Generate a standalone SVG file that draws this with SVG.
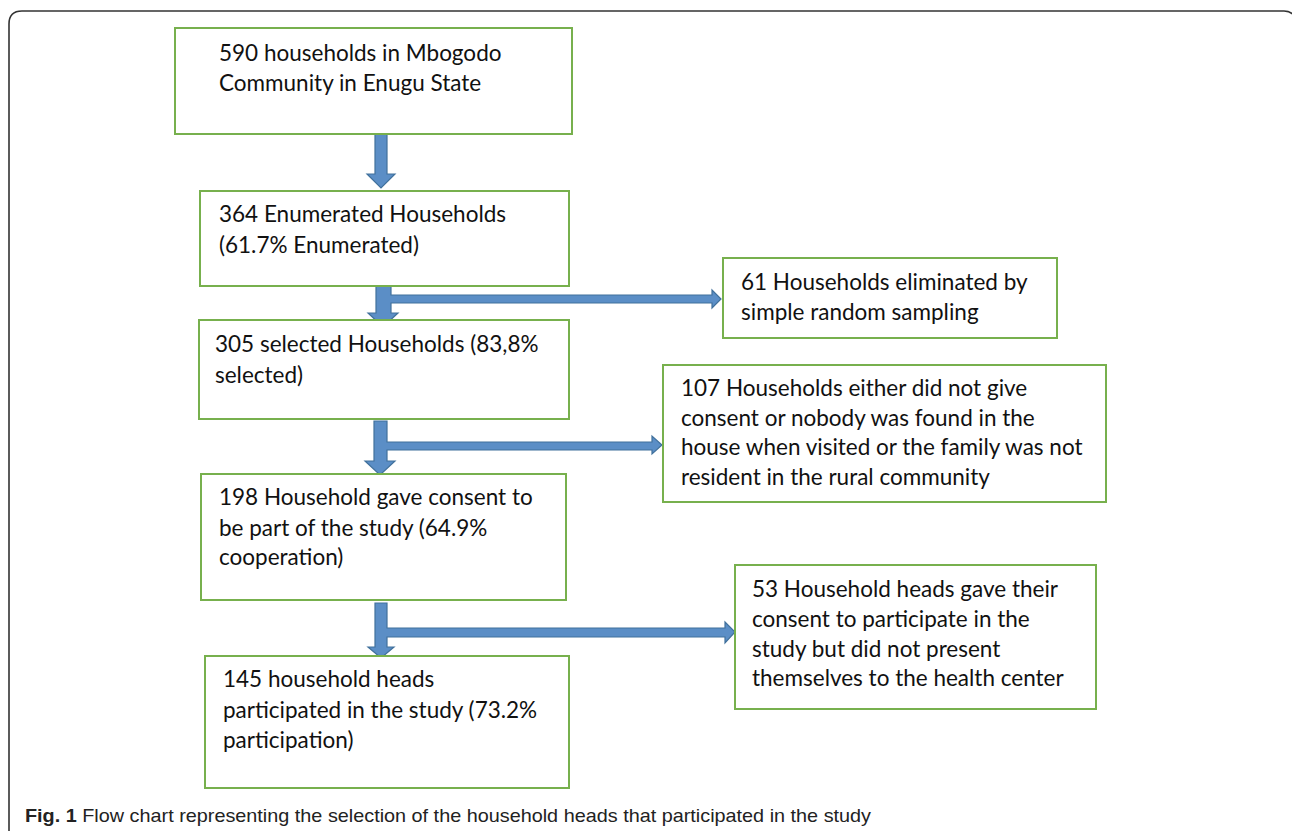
<svg xmlns="http://www.w3.org/2000/svg" width="1292" height="831" viewBox="0 0 1292 831">
<style>
.box{fill:#fff;stroke:#77b04d;stroke-width:2}
.t{font-family:Lato,"Open Sans","Liberation Sans",sans-serif;font-size:22.5px;fill:#111}
.arr{fill:#5b8ec6;stroke:#41719c;stroke-width:1.2;stroke-linejoin:miter}
.cap{font-family:"Liberation Sans",sans-serif;font-size:19px;fill:#222}
</style>
<rect x="0" y="0" width="1292" height="831" fill="#fff"/>
<path d="M9,831 V24 Q9,11 22,11 H1284 Q1292,11 1296,18" fill="none" stroke="#333" stroke-width="1.6"/>
<g id="connectors">
<path class="arr" d="M375,134 H387 V174 H395 L381,188 L367,174 H375 Z"/>
<path class="arr" d="M376,282 H391 V295 H712 V290 L721,299 L712,308 V303 H391 V313 H398 L383,327 L368,313 H376 Z"/>
<path class="arr" d="M374,421 H387 V442 H652 V436 L662,445 L652,454 V450 H387 V461 H395 L380,475 L365,461 H374 Z"/>
<path class="arr" d="M375,603 H387 V628 H725 V622 L735,632 L725,643 V637 H387 V647 H394 L381,658 L368,647 H375 Z"/>
</g>
<g id="n1"><rect class="box" x="175" y="28" width="397" height="106"/>
<text class="t" x="219" y="61">590 households in Mbogodo</text>
<text class="t" x="219" y="91">Community in Enugu State</text></g>
<g id="n2"><rect class="box" x="200" y="191" width="369" height="95"/>
<text class="t" x="219" y="222">364 Enumerated Households</text>
<text class="t" x="219" y="253">(61.7% Enumerated)</text></g>
<g id="n3"><rect class="box" x="723" y="258" width="334" height="80"/>
<text class="t" x="741" y="290">61 Households eliminated by</text>
<text class="t" x="741" y="320">simple random sampling</text></g>
<g id="n4"><rect class="box" x="199" y="320" width="370" height="99"/>
<text class="t" x="215" y="352">305 selected Households (83,8%</text>
<text class="t" x="215" y="383">selected)</text></g>
<g id="n5"><rect class="box" x="663" y="365" width="443" height="137"/>
<text class="t" x="681" y="396">107 Households either did not give</text>
<text class="t" x="681" y="426">consent or nobody was found in the</text>
<text class="t" x="681" y="455">house when visited or the family was not</text>
<text class="t" x="681" y="485">resident in the rural community</text></g>
<g id="n6"><rect class="box" x="201" y="474" width="365" height="126"/>
<text class="t" x="219" y="505">198 Household gave consent to</text>
<text class="t" x="219" y="536">be part of the study (64.9%</text>
<text class="t" x="219" y="565">cooperation)</text></g>
<g id="n7"><rect class="box" x="735" y="565" width="361" height="144"/>
<text class="t" x="752" y="597">53 Household heads gave their</text>
<text class="t" x="752" y="627">consent to participate in the</text>
<text class="t" x="752" y="657">study but did not present</text>
<text class="t" x="752" y="686">themselves to the health center</text></g>
<g id="n8"><rect class="box" x="205" y="656" width="364" height="132"/>
<text class="t" x="223" y="687">145 household heads</text>
<text class="t" x="223" y="718">participated in the study (73.2%</text>
<text class="t" x="223" y="748">participation)</text></g>
<text class="cap" x="25" y="822" textLength="846" lengthAdjust="spacingAndGlyphs"><tspan font-weight="bold">Fig. 1</tspan> Flow chart representing the selection of the household heads that participated in the study</text>
</svg>
